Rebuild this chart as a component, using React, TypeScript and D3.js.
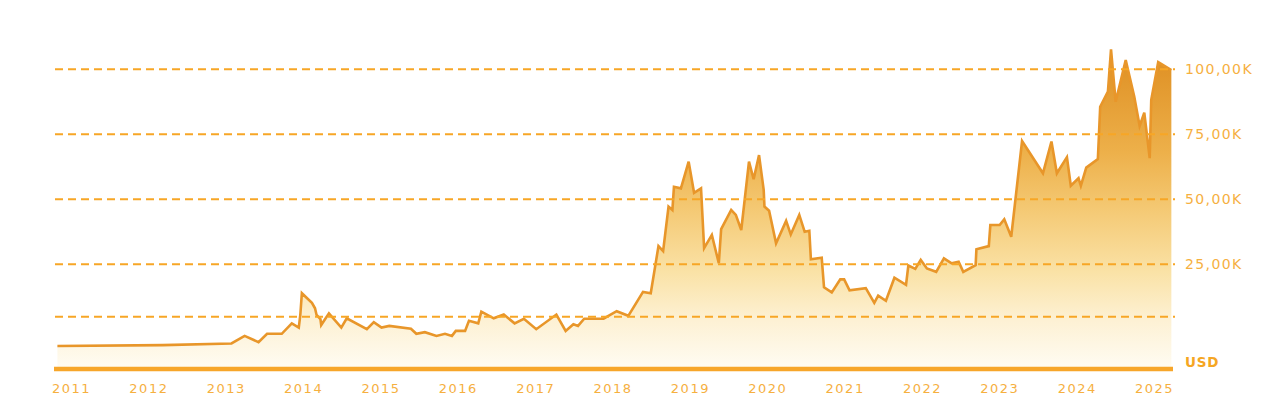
import React from 'react';
import * as d3 from 'd3';

// decimal year of each reading
const dates = [
  2011.07, 2012.43, 2013.32, 2013.49, 2013.67, 2013.78, 2013.97, 2014.10, 2014.19, 2014.21,
  2014.23, 2014.36, 2014.40, 2014.42, 2014.47, 2014.48, 2014.58, 2014.74, 2014.81, 2015.07,
  2015.16, 2015.26, 2015.36, 2015.64, 2015.71, 2015.82, 2015.97, 2016.08, 2016.17, 2016.22,
  2016.34, 2016.39, 2016.51, 2016.55, 2016.71, 2016.84, 2016.98, 2017.10, 2017.26, 2017.52,
  2017.64, 2017.74, 2017.80, 2017.88, 2018.13, 2018.30, 2018.45, 2018.64, 2018.74, 2018.84,
  2018.90, 2018.97, 2019.02, 2019.04, 2019.13, 2019.23, 2019.30, 2019.39, 2019.43, 2019.53,
  2019.62, 2019.65, 2019.78, 2019.84, 2019.91, 2020.01, 2020.07, 2020.14, 2020.20, 2020.21,
  2020.27, 2020.36, 2020.49, 2020.55, 2020.66, 2020.73, 2020.79, 2020.81, 2020.95, 2020.98,
  2021.08, 2021.19, 2021.24, 2021.31, 2021.52, 2021.63, 2021.68, 2021.78, 2021.89, 2022.04,
  2022.07, 2022.16, 2022.23, 2022.31, 2022.43, 2022.53, 2022.63, 2022.72, 2022.78, 2022.94,
  2022.95, 2023.11, 2023.13, 2023.25, 2023.31, 2023.40, 2023.54, 2023.81, 2023.92, 2023.99,
  2024.12, 2024.17, 2024.27, 2024.30, 2024.37, 2024.52, 2024.55, 2024.65, 2024.69, 2024.75,
  2024.88, 2024.99, 2025.06, 2025.12, 2025.19, 2025.21, 2025.30, 2025.47,
];

// price in USD
const prices = [
  5500, 5700, 6100, 7900, 6400, 8400, 8400, 10900, 9900, 12900,
  18100, 15800, 14500, 12900, 11900, 10500, 13300, 9900, 12100, 9500,
  11200, 9900, 10300, 9600, 8400, 8800, 7900, 8400, 7900, 9100,
  9100, 11500, 10900, 13700, 12100, 13000, 10900, 12000, 9500, 13000,
  9100, 10700, 10300, 12000, 12000, 13800, 12700, 18400, 18100, 32000,
  30100, 47200, 45900, 54800, 54200, 64500, 52500, 54200, 31200, 36300,
  25400, 38500, 45900, 44000, 38200, 64500, 57700, 67000, 53600, 47200,
  45600, 33100, 41700, 36500, 44000, 37500, 37900, 26900, 27500, 19500,
  18300, 21400, 21400, 18800, 19300, 15800, 17500, 16300, 21800, 20100,
  24700, 23900, 26700, 24000, 23200, 27300, 25400, 26000, 23200, 24800,
  30800, 32000, 40100, 40100, 42300, 35600, 72400, 60000, 72200, 60000,
  66200, 55200, 58100, 55200, 62200, 65500, 85600, 91400, 107700, 87500,
  103600, 89500, 78200, 83300, 65800, 88200, 102800, 99700,
];

const yearTicks = d3.range(2011, 2026);
const gridValues = [12500, 25000, 50000, 75000, 100000];
const gridLabels = ['', '25,00K', '50,00K', '75,00K', '100,00K'];
const unitLabel = 'USD';

const W = 1280;
const H = 419;

const App: React.FC = () => {
  const xScale = d3.scaleLinear().domain([2011, 2025]).range([52, 1135]);
  // the band under 25K is drawn taller than the rest
  const yScale = d3.scaleLinear().domain([0, 25000, 100000]).range([369, 264.3, 69.3]);

  const data = dates.map((d, i) => ({ t: d, v: prices[i] }));

  const area = d3.area<{ t: number; v: number }>()
    .x(d => xScale(d.t))
    .y0(yScale(0))
    .y1(d => yScale(d.v));

  const line = d3.line<{ t: number; v: number }>()
    .x(d => xScale(d.t))
    .y(d => yScale(d.v));

  const gridX0 = 55;
  const gridX1 = 1175;
  const labelX = 1185;

  return (
    <div>
      <style>{'body{margin:0}'}</style>
      <svg width={W} height={H} style={{ display: 'block', background: '#fff' }}>
        <defs>
          <linearGradient id="fillGrad" gradientUnits="userSpaceOnUse" x1="0" y1="45" x2="0" y2="369">
            <stop offset="0" stopColor="#dd8c1f" />
            <stop offset="0.33" stopColor="#edb04a" />
            <stop offset="0.5" stopColor="#f4c872" />
            <stop offset="0.7" stopColor="#fae2a6" />
            <stop offset="0.85" stopColor="#fdf1d4" />
            <stop offset="1" stopColor="#fffcf3" />
          </linearGradient>
        </defs>

        <path d={area(data) ?? ''} fill="url(#fillGrad)" />
        <path d={line(data) ?? ''} fill="none" stroke="#e8962a" strokeWidth={2.6} strokeLinejoin="miter" />

        {gridValues.map((v, i) => (
          <g key={v}>
            <line
              x1={gridX0}
              x2={gridX1}
              y1={yScale(v)}
              y2={yScale(v)}
              stroke="#f7a626"
              strokeWidth={2}
              strokeDasharray="8 5"
            />
            {gridLabels[i] && (
              <text
                x={labelX}
                y={yScale(v)}
                dominantBaseline="central"
                fill="#f6b03f"
                fontFamily="DejaVu Sans"
                fontSize={14}
                letterSpacing={1.4}
              >
                {gridLabels[i]}
              </text>
            )}
          </g>
        ))}

        <line x1={54} x2={1173} y1={yScale(0)} y2={yScale(0)} stroke="#f7a62a" strokeWidth={4.5} />
        <text
          x={labelX}
          y={yScale(0) - 2.5}
          fill="#f5a623"
          fontFamily="DejaVu Sans"
          fontWeight="bold"
          fontSize={13.5}
          letterSpacing={0.8}
        >
          {unitLabel}
        </text>

        {yearTicks.map(t => (
          <text
            key={t}
            x={xScale(t)}
            y={393}
            fill="#f6b03f"
            fontFamily="DejaVu Sans"
            fontSize={13}
            letterSpacing={1.5}
          >
            {d3.format('d')(t)}
          </text>
        ))}
      </svg>
    </div>
  );
};

export default App;
